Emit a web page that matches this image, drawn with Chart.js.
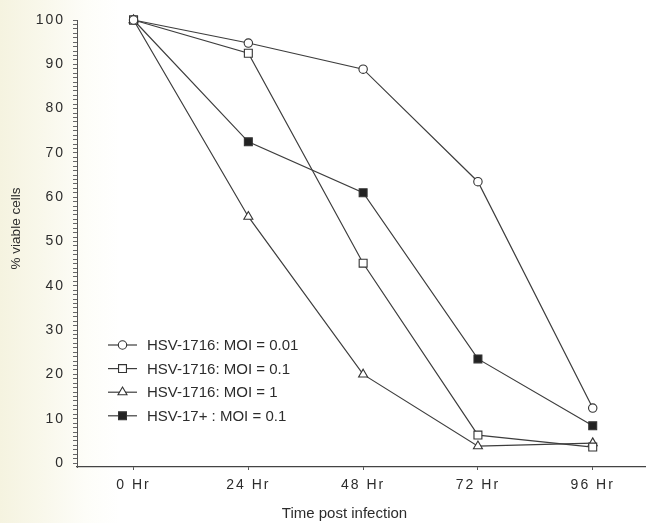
<!DOCTYPE html>
<html>
<head>
<meta charset="utf-8">
<script src="https://cdn.jsdelivr.net/npm/chart.js@4.4.1/dist/chart.umd.min.js"></script>
<style>
  html, body { margin: 0; padding: 0; }
  body {
    width: 652px; height: 523px; overflow: hidden;
    background: linear-gradient(to right, #f5f3e0 0px, #f9f8ec 45px, #fdfdf8 85px, #ffffff 120px);
  }
  #wrap { position: relative; width: 652px; height: 523px; }
</style>
</head>
<body>
<div id="wrap"><canvas id="c"></canvas></div>
<script>
// ---- data ----
const hours = [0, 24, 48, 72, 96];
const xTickLabels = ['0 Hr', '24 Hr', '48 Hr', '72 Hr', '96 Hr'];
const yTickValues = [0, 10, 20, 30, 40, 50, 60, 70, 80, 90, 100];
const seriesNames = [
  'HSV-1716: MOI = 0.01',
  'HSV-1716: MOI = 0.1',
  'HSV-1716: MOI = 1',
  'HSV-17+ : MOI = 0.1'
];
const hsv1716Moi001 = [100, 94.8, 88.9, 63.5, 12.4];
const hsv1716Moi01  = [100, 92.5, 45.1, 6.3, 3.6];
const hsv1716Moi1   = [100, 55.6, 20.0, 3.8, 4.5];
const hsv17Moi01    = [100, 72.5, 61.0, 23.5, 8.4];
const xTitle = 'Time post infection';
const yTitle = '% viable cells';

// ---- styling ----
const INK = '#2c2c2c';
const LINE = '#3d3d3d';
const FONT = "'Liberation Sans', Arial, Helvetica, sans-serif";
const markerStyles = [
  { pointStyle: 'circle',   radius: 4.2, fill: '#ffffff' },
  { pointStyle: 'rect',     radius: 5.6, fill: '#ffffff' },
  { pointStyle: 'triangle', radius: 5.2, fill: '#ffffff' },
  { pointStyle: 'rect',     radius: 5.6, fill: '#222222' }
];
const seriesValues = [hsv1716Moi001, hsv1716Moi01, hsv1716Moi1, hsv17Moi01];

const datasets = seriesValues.map((vals, i) => ({
  label: seriesNames[i],
  data: hours.map((h, j) => ({ x: h, y: vals[j] })),
  borderColor: LINE,
  borderWidth: 1.2,
  pointStyle: markerStyles[i].pointStyle,
  pointRadius: markerStyles[i].radius,
  pointBackgroundColor: markerStyles[i].fill,
  pointBorderColor: '#333333',
  pointBorderWidth: 1.1,
  tension: 0,
  fill: false,
  clip: false
}));

// letter spacing for tick labels only
const spacingPlugin = {
  id: 'tickSpacing',
  beforeDraw(chart) {
    Object.values(chart.scales).forEach(s => {
      if (s._spacedPatch) return;
      const orig = s.drawLabels.bind(s);
      s.drawLabels = function (area) {
        const ctx = this.ctx;
        ctx.save();
        ctx.letterSpacing = '2px';
        orig(area);
        ctx.restore();
      };
      s._spacedPatch = true;
    });
  }
};

// legend drawn inside the plot area, lower left
const insideLegend = {
  id: 'insideLegend',
  afterDraw(chart) {
    const { ctx, chartArea } = chart;
    const x0 = chartArea.left;
    const yStart = chartArea.bottom - 122;
    const gap = 23.6;
    ctx.save();
    ctx.letterSpacing = '0px';
    chart.data.datasets.forEach((ds, i) => {
      const y = yStart + i * gap;
      ctx.strokeStyle = LINE;
      ctx.lineWidth = 1.2;
      ctx.beginPath();
      ctx.moveTo(x0 + 31, y);
      ctx.lineTo(x0 + 60, y);
      ctx.stroke();
      ctx.fillStyle = markerStyles[i].fill;
      ctx.strokeStyle = '#333333';
      ctx.lineWidth = 1.1;
      Chart.helpers.drawPoint(ctx, {
        pointStyle: markerStyles[i].pointStyle,
        radius: markerStyles[i].radius,
        rotation: 0,
        borderWidth: 1.1
      }, x0 + 45.5, y);
      ctx.fillStyle = INK;
      ctx.font = "15px " + FONT;
      ctx.textAlign = 'left';
      ctx.textBaseline = 'middle';
      ctx.fillText(ds.label, x0 + 70, y + 1);
    });
    ctx.restore();
  }
};

const NB = '\u00a0';

new Chart(document.getElementById('c'), {
  type: 'line',
  data: { datasets },
  plugins: [spacingPlugin, insideLegend],
  options: {
    responsive: true,
    maintainAspectRatio: false,
    animation: false,
    layout: { padding: { top: 20, right: 2, left: 0, bottom: 0 } },
    plugins: { legend: { display: false }, tooltip: { enabled: false } },
    scales: {
      x: {
        type: 'linear',
        min: -11.82,
        max: 106.99,
        afterBuildTicks: s => { s.ticks = hours.map(v => ({ value: v })); },
        afterFit: s => { s.height = 56; },
        border: { display: true, color: '#444444', width: 1.2 },
        grid: { drawOnChartArea: false, drawTicks: true, tickLength: 3, tickColor: '#555555' },
        ticks: {
          autoSkip: false, maxRotation: 0, padding: 7,
          color: INK, font: { family: FONT, size: 14 },
          callback: v => { const k = hours.indexOf(v); return k >= 0 ? xTickLabels[k] : ''; }
        },
        title: {
          display: true, text: xTitle + NB.repeat(8),
          color: INK, font: { family: FONT, size: 15 },
          padding: { top: 0, bottom: 0 }
        }
      },
      y: {
        type: 'linear',
        min: -0.9,
        max: 100,
        afterBuildTicks: s => {
          const t = [];
          for (let v = 0; v <= 100; v++) t.push({ value: v });
          s.ticks = t;
        },
        afterFit: s => { s.width = 77; },
        border: { display: true, color: '#555555', width: 1 },
        grid: { drawOnChartArea: false, drawTicks: true, tickLength: 4, tickColor: '#666666', tickWidth: 1 },
        ticks: {
          autoSkip: false, padding: 8,
          color: INK, font: { family: FONT, size: 14 },
          callback: v => (yTickValues.includes(v) ? String(v) : '')
        },
        title: {
          display: true, text: NB.repeat(8) + yTitle,
          color: INK, font: { family: FONT, size: 13.5 },
          padding: { top: 8, bottom: 0 }
        }
      }
    }
  }
});
</script>
</body>
</html>
